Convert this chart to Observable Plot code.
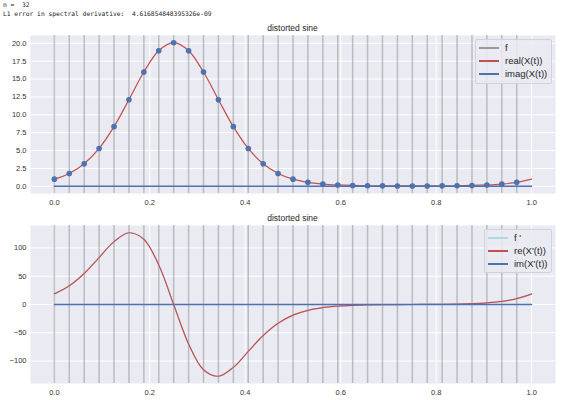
<!DOCTYPE html>
<html>
<head>
<meta charset="utf-8">
<script src="https://cdn.jsdelivr.net/npm/d3@7"></script>
<script src="https://cdn.jsdelivr.net/npm/@observablehq/plot@0.6"></script>
<style>
  body { margin: 0; background: white; }
  #fig { position: relative; width: 561px; height: 400px; background: white; overflow: hidden; font-family: "Liberation Sans", Arial, sans-serif; }
  .out { position: absolute; left: 3px; font-family: "DejaVu Sans Mono", monospace; font-size: 6.3px; color: #222; white-space: pre; }
  .title { position: absolute; left: 30px; width: 525px; text-align: center; font-size: 8.5px; color: #262626; }
  .plot { position: absolute; left: 0; }
  .legend { position: absolute; border: 1px solid #d2d2da; border-radius: 2px; background: rgba(234,234,242,0.85); font-size: 9.5px; color: #262626; }
  .legend .row { position: absolute; left: 0; height: 12px; line-height: 12px; white-space: nowrap; }
  .legend .sw { position: absolute; left: 3px; top: 5px; width: 20px; height: 2px; }
  .legend .lab { position: absolute; left: 29px; top: 0; }
</style>
</head>
<body>
<div id="fig"></div>
<script>
// ---- data ----
const headerLines = ["n =  32", "L1 error in spectral derivative:  4.616854848395326e-09"];
const panelTitle = "distorted sine";

const t = [0, 0.03125, 0.0625, 0.09375, 0.125, 0.15625, 0.1875, 0.21875, 0.25, 0.28125, 0.3125, 0.34375,
  0.375, 0.40625, 0.4375, 0.46875, 0.5, 0.53125, 0.5625, 0.59375, 0.625, 0.65625, 0.6875, 0.71875,
  0.75, 0.78125, 0.8125, 0.84375, 0.875, 0.90625, 0.9375, 0.96875, 1];

const fValues = [1, 1.796, 3.152, 5.295, 8.342, 12.115, 15.985, 18.961, 20.086, 18.961, 15.985, 12.115,
  8.342, 5.295, 3.152, 1.796, 1, 0.557, 0.317, 0.189, 0.120, 0.083, 0.063, 0.053,
  0.050, 0.053, 0.063, 0.083, 0.120, 0.189, 0.317, 0.557, 1];

const dfValues = [18.85, 33.19, 54.89, 82.98, 111.19, 126.87, 115.31, 69.73, 0, -69.73, -115.31, -126.87,
  -111.19, -82.98, -54.89, -33.19, -18.85, -10.30, -5.53, -2.96, -1.60, -0.86, -0.45, -0.19,
  0, 0.19, 0.45, 0.86, 1.60, 2.96, 5.53, 10.30, 18.85];

const imagT = [0, 1];
const imagV = [0, 0];

const xTicks = [0, 0.2, 0.4, 0.6, 0.8, 1.0];
const yTicksTop = [0, 2.5, 5, 7.5, 10, 12.5, 15, 17.5, 20];
const yTicksBottom = [-100, -50, 0, 50, 100];

const legendTop = ["f", "real(X(t))", "imag(X(t))"];
const legendBottom = ["f '", "re(X'(t))", "im(X'(t))"];

// ---- styles ----
const BG = "#EAEAF2", RED = "#C44E52", BLUE = "#4C72B0", GRAY = "#808080", LIGHTBLUE = "#ADD8E6";

const samples = t.slice(0, 32).map((tt, i) => ({t: tt, f: fValues[i]}));
const fCurve = t.map((tt, i) => ({t: tt, f: fValues[i]}));
const dfCurve = t.map((tt, i) => ({t: tt, d: dfValues[i]}));
const imag = imagT.map((tt, i) => ({t: tt, v: imagV[i]}));

const fig = document.getElementById("fig");

headerLines.forEach((s, i) => {
  const d = document.createElement("div");
  d.className = "out";
  d.style.top = (1 + i * 9) + "px";
  d.textContent = s;
  fig.appendChild(d);
});

function common(yDomain) {
  return {
    width: 561, height: 190,
    marginTop: 15, marginBottom: 17, marginLeft: 30, marginRight: 6,
    style: {background: "transparent", fontFamily: "'Liberation Sans', Arial, sans-serif", fontSize: "7.5px", color: "#333"},
    x: {domain: [-0.05, 1.05], label: null},
    y: {domain: yDomain, label: null}
  };
}

const plotTop = Plot.plot({
  ...common([-1.004, 21.09]),
  marks: [
    Plot.frame({fill: BG, stroke: null}),
    Plot.gridX(xTicks, {stroke: "white", strokeOpacity: 1, strokeWidth: 1}),
    Plot.gridY(yTicksTop, {stroke: "white", strokeOpacity: 1, strokeWidth: 1}),
    Plot.ruleX(samples, {x: "t", stroke: GRAY, strokeOpacity: 0.45, strokeWidth: 1.5}),
    Plot.line(fCurve, {x: "t", y: "f", stroke: RED, strokeWidth: 1.2, curve: "catmull-rom"}),
    Plot.line(imag, {x: "t", y: "v", stroke: BLUE, strokeWidth: 1.5}),
    Plot.dot(samples, {x: "t", y: "f", r: 2.8, fill: BLUE, stroke: "none"}),
    Plot.axisX(xTicks, {tickSize: 0, tickPadding: 6, tickFormat: d => d.toFixed(1)}),
    Plot.axisY(yTicksTop, {tickSize: 0, tickPadding: 4, tickFormat: d => d.toFixed(1)})
  ]
});
plotTop.classList.add("plot");
plotTop.style.top = "20px";
fig.appendChild(plotTop);

const plotBottom = Plot.plot({
  ...common([-139.7, 139.7]),
  marks: [
    Plot.frame({fill: BG, stroke: null}),
    Plot.gridX(xTicks, {stroke: "white", strokeOpacity: 1, strokeWidth: 1}),
    Plot.gridY(yTicksBottom, {stroke: "white", strokeOpacity: 1, strokeWidth: 1}),
    Plot.ruleX(samples, {x: "t", stroke: GRAY, strokeOpacity: 0.45, strokeWidth: 1.5}),
    Plot.line(dfCurve, {x: "t", y: "d", stroke: LIGHTBLUE, strokeWidth: 1.2, curve: "catmull-rom"}),
    Plot.line(dfCurve, {x: "t", y: "d", stroke: RED, strokeWidth: 1.2, curve: "catmull-rom"}),
    Plot.line(imag, {x: "t", y: "v", stroke: BLUE, strokeWidth: 1.5}),
    Plot.axisX(xTicks, {tickSize: 0, tickPadding: 6, tickFormat: d => d.toFixed(1)}),
    Plot.axisY(yTicksBottom, {tickSize: 0, tickPadding: 4})
  ]
});
plotBottom.classList.add("plot");
plotBottom.style.top = "210px";
fig.appendChild(plotBottom);

[23, 213].forEach(y => {
  const d = document.createElement("div");
  d.className = "title";
  d.style.top = y + "px";
  d.textContent = panelTitle;
  fig.appendChild(d);
});

function legend(labels, colors, left, topPx, w, h, rowTops) {
  const box = document.createElement("div");
  box.className = "legend";
  Object.assign(box.style, {left: left + "px", top: topPx + "px", width: w + "px", height: h + "px"});
  labels.forEach((lab, i) => {
    const row = document.createElement("div");
    row.className = "row";
    row.style.top = rowTops[i] + "px";
    const sw = document.createElement("div");
    sw.className = "sw";
    sw.style.backgroundColor = colors[i];
    const tx = document.createElement("div");
    tx.className = "lab";
    tx.textContent = lab;
    row.appendChild(sw); row.appendChild(tx);
    box.appendChild(row);
  });
  fig.appendChild(box);
}
legend(legendTop, ["#9a9a9a", RED, BLUE], 475, 39, 75, 43, [2, 15, 28]);
legend(legendBottom, [LIGHTBLUE, RED, BLUE], 484, 229, 66, 42, [2, 15, 28]);
</script>
</body>
</html>
